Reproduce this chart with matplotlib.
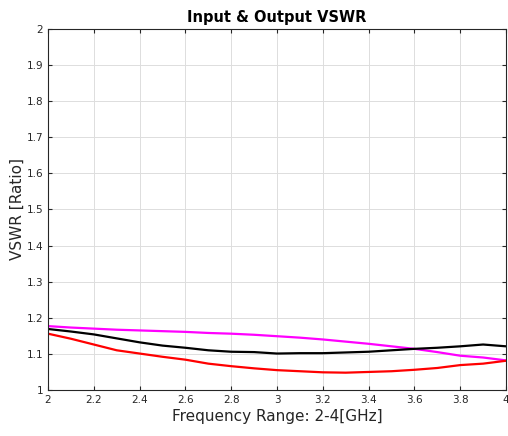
import matplotlib.pyplot as plt
import numpy as np

# frecuencia en GHz
freq = np.array([2.0, 2.1, 2.2, 2.3, 2.4, 2.5, 2.6, 2.7, 2.8, 2.9, 3.0,
                 3.1, 3.2, 3.3, 3.4, 3.5, 3.6, 3.7, 3.8, 3.9, 4.0])

vswr_rosa = np.array([1.177, 1.173, 1.170, 1.167, 1.165, 1.163, 1.161, 1.158, 1.156, 1.153, 1.149,
                      1.145, 1.140, 1.134, 1.128, 1.121, 1.114, 1.105, 1.095, 1.090, 1.082])
vswr_negro = np.array([1.169, 1.162, 1.154, 1.143, 1.132, 1.123, 1.117, 1.110, 1.106, 1.105, 1.101,
                       1.102, 1.102, 1.104, 1.106, 1.110, 1.114, 1.117, 1.121, 1.126, 1.121])
vswr_rojo = np.array([1.156, 1.142, 1.126, 1.110, 1.101, 1.092, 1.084, 1.073, 1.066, 1.060, 1.055,
                      1.052, 1.049, 1.048, 1.050, 1.052, 1.056, 1.061, 1.069, 1.073, 1.081])

xticks = np.arange(2.0, 4.01, 0.2)
yticks = np.arange(1.0, 2.01, 0.1)

fig = plt.figure(figsize=(5.08, 4.36), dpi=100)
ax = fig.add_axes([0.0945, 0.1055, 0.9016, 0.828])

ax.plot(freq, vswr_rosa, color='#ff00ff', lw=1.6)
ax.plot(freq, vswr_negro, color='black', lw=1.6)
ax.plot(freq, vswr_rojo, color='red', lw=1.6)

ax.set_xlim(2, 4)
ax.set_ylim(1, 2)
ax.set_xticks(xticks)
ax.set_xticklabels(['2', '2.2', '2.4', '2.6', '2.8', '3', '3.2', '3.4', '3.6', '3.8', '4'])
ax.set_yticks(yticks)
ax.set_yticklabels(['1', '1.1', '1.2', '1.3', '1.4', '1.5', '1.6', '1.7', '1.8', '1.9', '2'])
ax.tick_params(direction='in', labelsize=7.5, colors='#262626', top=True, right=True, length=3)
ax.grid(True, color='#dddddd', lw=0.7)
for s in ax.spines.values():
    s.set_color('#262626')
    s.set_linewidth(0.8)

ax.set_title('Input & Output VSWR', fontsize=10.5, fontweight='bold', pad=5)
ax.set_xlabel('Frequency Range: 2-4[GHz]', fontsize=11, color='#262626', labelpad=3)
ax.set_ylabel('VSWR [Ratio]', fontsize=11, color='#262626', labelpad=1)

plt.savefig('out.png', dpi=100)
